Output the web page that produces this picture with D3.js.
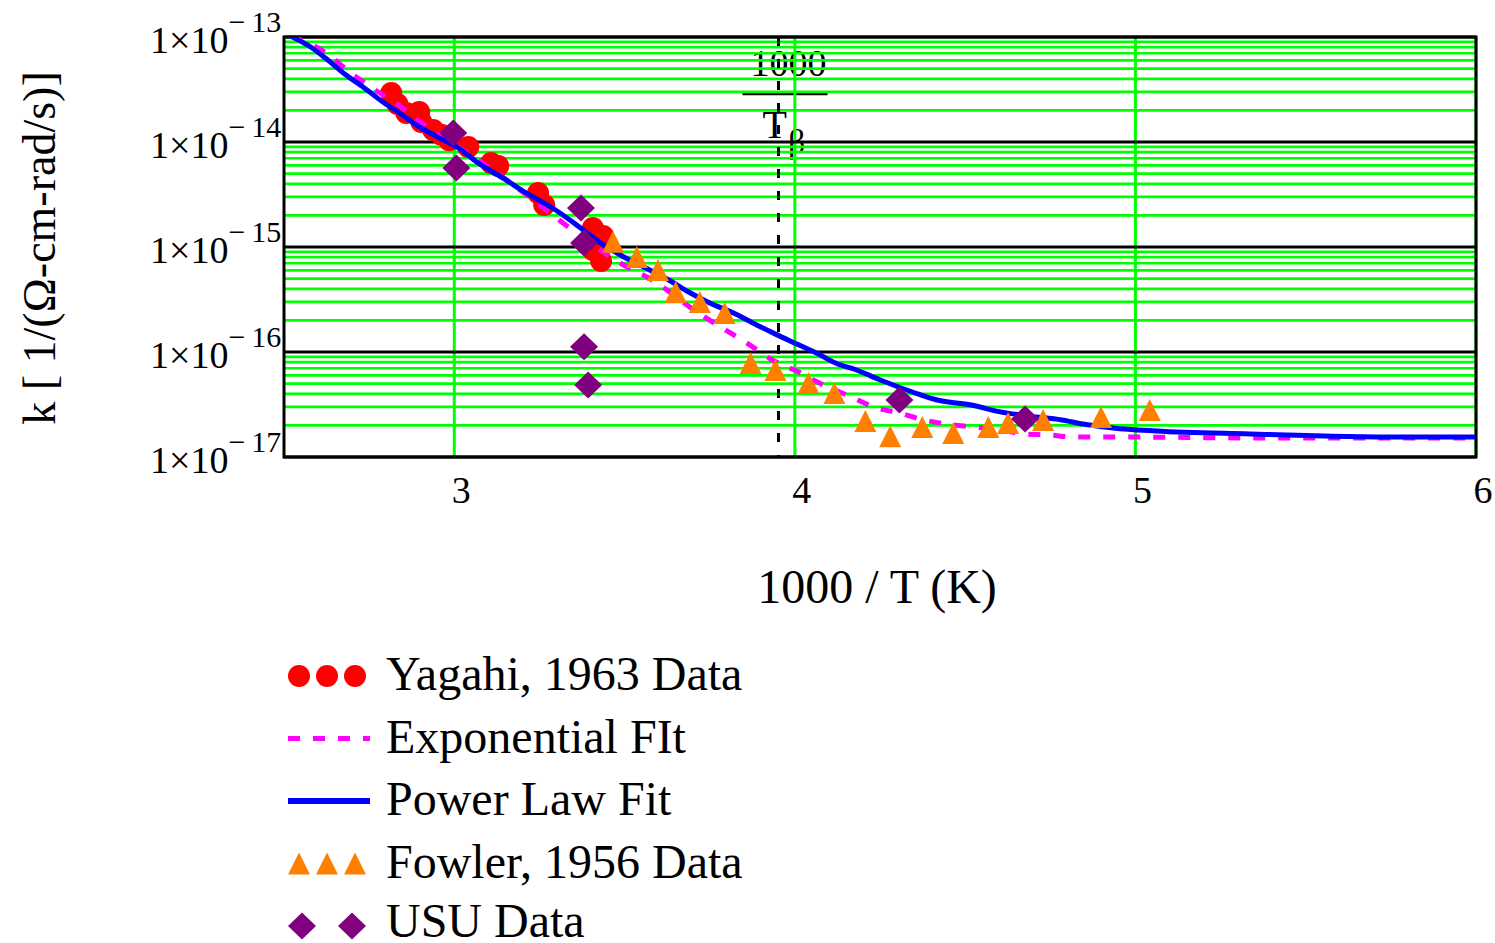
<!DOCTYPE html>
<html>
<head>
<meta charset="utf-8">
<script src="https://cdnjs.cloudflare.com/ajax/libs/d3/7.8.5/d3.min.js"></script>
<style>
  body { margin: 0; background: #fff; }
  svg { display: block; font-family: "Liberation Serif", "Times New Roman", serif; }
</style>
</head>
<body>
<div id="chart"></div>
<script>
// axes
const xDomain = [2.5, 6];
const yDomain = [1e-17, 1e-13];
const xTicks = [3, 4, 5, 6];
const yTicks = [1e-13, 1e-14, 1e-15, 1e-16, 1e-17];
const thetaLine = 3.952;

// Yagahi, 1963 data (1000/T, k)
const yagahiX = [2.815, 2.833, 2.859, 2.897, 2.903, 2.938, 2.962, 2.985, 3.041, 3.108, 3.129, 3.246, 3.264, 3.407, 3.437, 3.407, 3.431];
const yagahiK = [2.93e-14, 2.30e-14, 1.89e-14, 1.93e-14, 1.55e-14, 1.30e-14, 1.17e-14, 1.04e-14, 8.95e-15, 6.31e-15, 5.90e-15, 3.27e-15, 2.51e-15, 1.52e-15, 1.27e-15, 9.35e-16, 7.36e-16];

// exponential fit
const expX = [2.522, 2.628, 2.689, 2.763, 2.836, 2.909, 3.056, 3.126, 3.205, 3.343, 3.492, 3.571, 3.721, 3.791, 3.864, 3.929, 4.011, 4.084, 4.160, 4.231, 4.307, 4.380, 4.447, 4.527, 4.600, 4.673, 4.746, 4.820, 4.966, 5.335, 5.997];
const expK = [1.02e-13, 6.89e-14, 4.74e-14, 3.20e-14, 2.25e-14, 1.48e-14, 7.20e-15, 5.07e-15, 3.27e-15, 1.48e-15, 6.89e-16, 5.07e-16, 2.30e-16, 1.66e-16, 1.19e-16, 8.57e-17, 6.45e-17, 4.85e-17, 3.81e-17, 2.99e-17, 2.62e-17, 2.25e-17, 2.06e-17, 1.93e-17, 1.81e-17, 1.66e-17, 1.62e-17, 1.55e-17, 1.55e-17, 1.52e-17, 1.52e-17];

// power law fit
const powerX = [2.511, 2.578, 2.625, 2.678, 2.736, 2.786, 2.839, 2.889, 2.950, 3.012, 3.070, 3.147, 3.211, 3.293, 3.355, 3.425, 3.498, 3.568, 3.630, 3.683, 3.750, 3.820, 3.888, 3.943, 4.011, 4.069, 4.119, 4.181, 4.251, 4.345, 4.418, 4.518, 4.603, 4.691, 4.784, 4.846, 4.934, 5.060, 5.335, 5.775, 5.997];
const powerK = [1.05e-13, 8.03e-14, 6.17e-14, 4.44e-14, 3.27e-14, 2.46e-14, 1.89e-14, 1.45e-14, 1.12e-14, 8.77e-15, 6.31e-15, 4.45e-15, 3.27e-15, 2.30e-15, 1.66e-15, 1.12e-15, 8.04e-16, 6.17e-16, 4.85e-16, 3.81e-16, 2.93e-16, 2.35e-16, 1.81e-16, 1.48e-16, 1.17e-16, 9.57e-17, 7.86e-17, 6.74e-17, 5.41e-17, 4.16e-17, 3.49e-17, 3.13e-17, 2.69e-17, 2.45e-17, 2.25e-17, 2.06e-17, 1.89e-17, 1.77e-17, 1.66e-17, 1.55e-17, 1.55e-17];

// Fowler, 1956 data
const fowlerX = [3.466, 3.536, 3.598, 3.650, 3.721, 3.794, 3.870, 3.943, 4.040, 4.116, 4.207, 4.280, 4.374, 4.465, 4.568, 4.626, 4.729, 4.899, 5.042];
const fowlerK = [1.12e-15, 8.04e-16, 6.04e-16, 3.73e-16, 2.99e-16, 2.35e-16, 7.86e-17, 6.74e-17, 5.07e-17, 4.07e-17, 2.20e-17, 1.58e-17, 1.93e-17, 1.69e-17, 1.93e-17, 2.11e-17, 2.25e-17, 2.40e-17, 2.81e-17];

// USU data
const usuX = [2.997, 3.006, 3.372, 3.381, 3.381, 3.393, 4.307, 4.676];
const usuK = [1.22e-14, 5.65e-15, 2.35e-15, 1.09e-15, 1.12e-16, 4.85e-17, 3.49e-17, 2.30e-17];

const legendLabels = ["Yagahi, 1963 Data", "Exponential FIt", "Power Law Fit", "Fowler, 1956 Data", "USU Data"];

const width = 1495,
  height = 943,
  plot = { left: 284, right: 1476, top: 37, bottom: 457 };

const svg = d3
  .select("#chart")
  .append("svg")
  .attr("width", width)
  .attr("height", height);

const x = d3.scaleLinear().domain(xDomain).range([plot.left, plot.right]);
const y = d3.scaleLog().domain(yDomain).range([plot.bottom, plot.top]);

// 1000 / T_beta marker label (grid is painted over it)
const tx = x(thetaLine);
svg
  .append("text")
  .attr("x", tx + 10)
  .attr("y", 76)
  .attr("text-anchor", "middle")
  .attr("font-size", 38)
  .text("1000");
svg
  .append("line")
  .attr("x1", tx - 36)
  .attr("x2", tx + 49)
  .attr("y1", 93.5)
  .attr("y2", 93.5)
  .attr("stroke", "#000")
  .attr("stroke-width", 3.5);
const tLabel = svg
  .append("text")
  .attr("x", tx - 16)
  .attr("y", 138)
  .attr("font-size", 40)
  .text("T");
tLabel
  .append("tspan")
  .attr("font-size", 34)
  .attr("dx", 1)
  .attr("dy", 15)
  .text("β");

// grid
const mant = d => Math.round(d / Math.pow(10, Math.floor(Math.log10(d) + 1e-9)));
const grid = svg.append("g").attr("class", "grid");
grid
  .selectAll(".minor")
  .data(y.ticks().filter(d => mant(d) !== 1))
  .enter()
  .append("line")
  .attr("x1", plot.left)
  .attr("x2", plot.right)
  .attr("y1", d => y(d))
  .attr("y2", d => y(d))
  .attr("stroke", "#00ff00")
  .attr("stroke-width", 2.7);
grid
  .selectAll(".vert")
  .data(xTicks)
  .enter()
  .append("line")
  .attr("x1", d => x(d))
  .attr("x2", d => x(d))
  .attr("y1", plot.top)
  .attr("y2", plot.bottom)
  .attr("stroke", "#00ff00")
  .attr("stroke-width", 3);
grid
  .selectAll(".major")
  .data(yTicks)
  .enter()
  .append("line")
  .attr("x1", plot.left)
  .attr("x2", plot.right)
  .attr("y1", d => y(d))
  .attr("y2", d => y(d))
  .attr("stroke", "#000")
  .attr("stroke-width", 3);

// dashed marker line
svg
  .append("line")
  .attr("x1", tx)
  .attr("x2", tx)
  .attr("y1", plot.top)
  .attr("y2", plot.bottom)
  .attr("stroke", "#000")
  .attr("stroke-width", 3)
  .attr("stroke-dasharray", "9,13");

// frame
svg
  .append("rect")
  .attr("x", plot.left)
  .attr("y", plot.top)
  .attr("width", plot.right - plot.left)
  .attr("height", plot.bottom - plot.top)
  .attr("fill", "none")
  .attr("stroke", "#000")
  .attr("stroke-width", 3);

// tick labels
svg
  .selectAll(".xtick")
  .data(xTicks)
  .enter()
  .append("text")
  .attr("x", d => x(d) + 7)
  .attr("y", 503)
  .attr("text-anchor", "middle")
  .attr("font-size", 38)
  .text(d => d);

const ylab = svg
  .selectAll(".ytick")
  .data(yTicks)
  .enter()
  .append("text")
  .attr("x", 150)
  .attr("y", d => y(d) + 16)
  .attr("font-size", 38);
ylab.append("tspan").text("1×10");
ylab
  .append("tspan")
  .attr("font-size", 30)
  .attr("dy", -21)
  .text("−");
ylab
  .append("tspan")
  .attr("font-size", 30)
  .attr("dx", 6)
  .text(d => Math.round(-Math.log10(d)));

// axis titles
svg
  .append("text")
  .attr("x", 877)
  .attr("y", 603)
  .attr("text-anchor", "middle")
  .attr("font-size", 48)
  .text("1000 / T (K)");
svg
  .append("text")
  .attr("transform", "translate(55,248) rotate(-90)")
  .attr("text-anchor", "middle")
  .attr("font-size", 46)
  .text("k [ 1/(Ω-cm-rad/s)]");

// data
svg
  .append("clipPath")
  .attr("id", "plotclip")
  .append("rect")
  .attr("x", plot.left)
  .attr("y", plot.top)
  .attr("width", plot.right - plot.left)
  .attr("height", plot.bottom - plot.top);

const line = d3
  .line()
  .x(d => x(d[0]))
  .y(d => y(d[1]))
  .curve(d3.curveMonotoneX);

const circle = (g, cx, cy) =>
  g.append("circle").attr("cx", cx).attr("cy", cy).attr("r", 11).attr("fill", "#ff0000");
const triangle = (g, cx, cy) =>
  g
    .append("path")
    .attr("d", `M${cx},${cy - 11}L${cx + 11},${cy + 11}L${cx - 11},${cy + 11}Z`)
    .attr("fill", "#ff8000");
const diamond = (g, cx, cy) =>
  g
    .append("path")
    .attr("d", `M${cx},${cy - 13.5}L${cx + 14},${cy}L${cx},${cy + 13.5}L${cx - 14},${cy}Z`)
    .attr("fill", "#800080");

const yagahiG = svg.append("g").attr("class", "yagahi");
d3.zip(yagahiX, yagahiK).forEach(d => circle(yagahiG, x(d[0]), y(d[1])));

svg
  .append("path")
  .datum(d3.zip(expX, expK))
  .attr("clip-path", "url(#plotclip)")
  .attr("d", line)
  .attr("fill", "none")
  .attr("stroke", "#ff00ff")
  .attr("stroke-width", 5)
  .attr("stroke-dasharray", "12,13");

svg
  .append("path")
  .datum(d3.zip(powerX, powerK))
  .attr("clip-path", "url(#plotclip)")
  .attr("d", line)
  .attr("fill", "none")
  .attr("stroke", "#0000ff")
  .attr("stroke-width", 5);

const fowlerG = svg.append("g").attr("class", "fowler");
d3.zip(fowlerX, fowlerK).forEach(d => triangle(fowlerG, x(d[0]), y(d[1])));

const usuG = svg.append("g").attr("class", "usu");
d3.zip(usuX, usuK).forEach(d => diamond(usuG, x(d[0]), y(d[1])));

// legend
const legend = svg.append("g").attr("class", "legend");
const rowY = i => 676 + i * 62.5;
legend
  .selectAll("text")
  .data(legendLabels)
  .enter()
  .append("text")
  .attr("x", 386)
  .attr("y", (d, i) => Math.min(rowY(i) + 14, 937))
  .attr("font-size", 48)
  .text(d => d);
[299, 327, 355].forEach(cx => circle(legend, cx, rowY(0)));
legend
  .append("line")
  .attr("x1", 288)
  .attr("x2", 370)
  .attr("y1", rowY(1))
  .attr("y2", rowY(1))
  .attr("stroke", "#ff00ff")
  .attr("stroke-width", 5)
  .attr("stroke-dasharray", "12,13");
legend
  .append("line")
  .attr("x1", 288)
  .attr("x2", 370)
  .attr("y1", rowY(2))
  .attr("y2", rowY(2))
  .attr("stroke", "#0000ff")
  .attr("stroke-width", 6);
[299, 327, 355].forEach(cx => triangle(legend, cx, rowY(3)));
[302, 352].forEach(cx => diamond(legend, cx, rowY(4)));
</script>
</body>
</html>
